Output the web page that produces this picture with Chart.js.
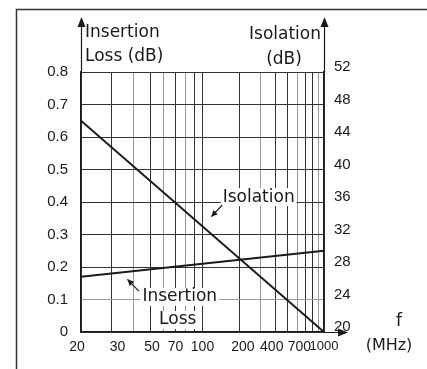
<!DOCTYPE html>
<html>
<head>
<meta charset="utf-8">
<script src="https://cdn.jsdelivr.net/npm/chart.js@4.4.1/dist/chart.umd.min.js"></script>
<style>
  html, body { margin: 0; padding: 0; background: #fff; }
  canvas { display: block; }
</style>
</head>
<body>
<canvas id="chart" width="427" height="369" style="width:427px;height:369px"></canvas>
<script>
// Frequency axis (MHz)
const xGrid = [20, 30, 40, 50, 60, 70, 80, 90, 100, 200, 300, 400, 500, 600, 700, 800, 900, 1000];
const xLabels = [20, 30, 50, 70, 100, 200, 400, 700, 1000];
const xLightLines = [40, 60, 80, 300, 600, 900];

// Left axis: insertion loss (dB)
const lossTicks = [0, 0.1, 0.2, 0.3, 0.4, 0.5, 0.6, 0.7, 0.8];
// Right axis: isolation (dB)
const isoTicks = [20, 24, 28, 32, 36, 40, 44, 48, 52];

// Curves
const lossFreq = [20, 1000];
const lossValues = [0.17, 0.25];
const isoFreq = [20, 1000];
const isoValues = [46, 20];

const FONT = '"DejaVu Sans", sans-serif';
const TICK_FONT = '"Liberation Sans", Arial, sans-serif';
const INK = '#1a1a1a';

// Space padding nudges crowded frequency labels off their grid line
const labelPad = { 20: [0, 2], 30: [3, 0], 50: [1, 0], 200: [2, 0], 400: [0, 2], 700: [0, 3] };

// Log paper where 20-100 and 100-1000 each take half of the width
const X_SPLIT = 100;
class SplitLogScale extends Chart.LogarithmicScale {
  decimalFor(v) {
    const lo = this.min, hi = this.max;
    if (v <= X_SPLIT) return 0.5 * Math.log(v / lo) / Math.log(X_SPLIT / lo);
    return 0.5 + 0.5 * Math.log(v / X_SPLIT) / Math.log(hi / X_SPLIT);
  }
  getPixelForValue(value) {
    return this.getPixelForDecimal(this.decimalFor(value));
  }
  getValueForPixel(pixel) {
    const d = this.getDecimalForPixel(pixel);
    if (d <= 0.5) return this.min * Math.pow(X_SPLIT / this.min, d * 2);
    return X_SPLIT * Math.pow(this.max / X_SPLIT, (d - 0.5) * 2);
  }
}
SplitLogScale.id = 'splitLog';
SplitLogScale.defaults = Chart.LogarithmicScale.defaults;
Chart.register(SplitLogScale);

function arrowHead(ctx, x, y, dir) {
  // dir: 'up' or 'right'
  ctx.beginPath();
  if (dir === 'up') {
    ctx.moveTo(x, y);
    ctx.lineTo(x - 4, y + 10);
    ctx.lineTo(x + 4, y + 10);
  } else {
    ctx.moveTo(x, y);
    ctx.lineTo(x - 10, y - 4);
    ctx.lineTo(x - 10, y + 4);
  }
  ctx.closePath();
  ctx.fill();
}

function pointer(ctx, x1, y1, x2, y2) {
  ctx.beginPath();
  ctx.moveTo(x1, y1);
  ctx.lineTo(x2, y2);
  ctx.stroke();
  const a = Math.atan2(y2 - y1, x2 - x1);
  ctx.beginPath();
  ctx.moveTo(x2, y2);
  ctx.lineTo(x2 - 7 * Math.cos(a - 0.45), y2 - 7 * Math.sin(a - 0.45));
  ctx.lineTo(x2 - 7 * Math.cos(a + 0.45), y2 - 7 * Math.sin(a + 0.45));
  ctx.closePath();
  ctx.fill();
}

function boxedText(ctx, text, x, y) {
  const w = ctx.measureText(text).width;
  ctx.fillStyle = '#fff';
  ctx.fillRect(x - w / 2 - 2, y - 9, w + 4, 18);
  ctx.fillStyle = INK;
  ctx.fillText(text, x, y);
}

// Frame, axis arrows, axis titles and curve labels
const decorations = {
  id: 'decorations',
  afterDraw(chart) {
    const { ctx, chartArea: area, scales } = chart;
    const x = scales.x, yL = scales.y;
    ctx.save();
    ctx.strokeStyle = '#333';
    ctx.fillStyle = INK;
    ctx.lineWidth = 1.5;

    // outer frame
    ctx.beginPath();
    ctx.moveTo(427, 9.5);
    ctx.lineTo(16.5, 9.5);
    ctx.lineTo(16.5, 369);
    ctx.stroke();

    // axis arrows
    ctx.strokeStyle = INK;
    ctx.lineWidth = 1.2;
    ctx.beginPath();
    ctx.moveTo(area.left + 0.5, area.top);
    ctx.lineTo(area.left + 0.5, 22);
    ctx.moveTo(area.right + 0.5, area.top);
    ctx.lineTo(area.right + 0.5, 22);
    ctx.moveTo(area.right, area.bottom + 0.5);
    ctx.lineTo(342, area.bottom + 0.5);
    ctx.stroke();
    arrowHead(ctx, area.left + 0.5, 17, 'up');
    arrowHead(ctx, area.right + 0.5, 17, 'up');
    arrowHead(ctx, 348, area.bottom + 0.5, 'right');

    // axis titles
    ctx.font = '17px ' + FONT;
    ctx.textBaseline = 'middle';
    ctx.textAlign = 'left';
    ctx.fillText('Insertion', 85, 33);
    ctx.fillText('Loss (dB)', 85, 57);
    ctx.textAlign = 'right';
    ctx.fillText('Isolation', 321, 35);
    ctx.textAlign = 'center';
    ctx.fillText('(dB)', 284, 60);
    ctx.fillText('f', 399, 322);
    ctx.font = '16px ' + FONT;
    ctx.fillText('(MHz)', 389, 346);

    // curve labels
    ctx.font = '17px ' + FONT;
    boxedText(ctx, 'Isolation', x.getPixelForValue(290), yL.getPixelForValue(0.415));
    boxedText(ctx, 'Insertion', x.getPixelForValue(74), yL.getPixelForValue(0.108));
    boxedText(ctx, 'Loss', x.getPixelForValue(72), yL.getPixelForValue(0.037));

    ctx.lineWidth = 1.2;
    pointer(ctx, x.getPixelForValue(145), yL.getPixelForValue(0.39),
      x.getPixelForValue(118), yL.getPixelForValue(0.355));
    pointer(ctx, x.getPixelForValue(43), yL.getPixelForValue(0.126),
      x.getPixelForValue(37), yL.getPixelForValue(0.162));
    ctx.restore();
  }
};

new Chart(document.getElementById('chart'), {
  type: 'line',
  data: {
    datasets: [
      {
        label: 'Insertion Loss',
        data: lossFreq.map((f, i) => ({ x: f, y: lossValues[i] })),
        yAxisID: 'y',
        borderColor: INK,
        borderWidth: 2,
        pointRadius: 0,
        tension: 0
      },
      {
        label: 'Isolation',
        data: isoFreq.map((f, i) => ({ x: f, y: isoValues[i] })),
        yAxisID: 'y1',
        borderColor: INK,
        borderWidth: 2,
        pointRadius: 0,
        tension: 0
      }
    ]
  },
  options: {
    responsive: false,
    animation: false,
    layout: { padding: { top: 72, left: 0, right: 0, bottom: 0 } },
    plugins: {
      legend: { display: false },
      tooltip: { enabled: false }
    },
    scales: {
      x: {
        type: 'splitLog',
        min: 20,
        max: 1000,
        afterBuildTicks: axis => {
          axis.ticks = xGrid.map(v => ({ value: v }));
        },
        afterFit: axis => { axis.height = 37; },
        border: { display: true, color: INK, width: 1.2 },
        grid: {
          drawTicks: false,
          lineWidth: 1,
          color: c => xLightLines.includes(c.tick && c.tick.value) ? '#999' : '#333'
        },
        ticks: {
          autoSkip: false,
          maxRotation: 0,
          padding: 7,
          color: INK,
          font: c => ({ family: TICK_FONT, size: c.tick && c.tick.value === 1000 ? 13 : 14 }),
          callback: v => {
            if (!xLabels.includes(v)) return '';
            const [before, after] = labelPad[v] || [0, 0];
            return ' '.repeat(before) + v + ' '.repeat(after);
          }
        }
      },
      y: {
        position: 'left',
        min: 0,
        max: 0.8,
        afterBuildTicks: axis => {
          axis.ticks = lossTicks.map(v => ({ value: v }));
        },
        afterFit: axis => { axis.width = 81; },
        border: { display: true, color: INK, width: 1.2 },
        grid: {
          drawTicks: false,
          lineWidth: 1,
          color: c => (c.tick && Math.abs(c.tick.value - 0.1) < 1e-6) ? '#999' : '#333'
        },
        ticks: {
          padding: 13,
          color: INK,
          font: { family: TICK_FONT, size: 15 },
          callback: v => String(+v.toFixed(1))
        }
      },
      y1: {
        position: 'right',
        min: 20,
        max: 52,
        afterBuildTicks: axis => {
          axis.ticks = isoTicks.map(v => ({ value: v }));
        },
        afterFit: axis => { axis.width = 103; },
        border: { display: true, color: INK, width: 1.2 },
        grid: { display: false, drawTicks: false },
        ticks: {
          padding: 10,
          labelOffset: -5,
          color: INK,
          font: { family: TICK_FONT, size: 15 }
        }
      }
    }
  },
  plugins: [decorations]
});
</script>
</body>
</html>
